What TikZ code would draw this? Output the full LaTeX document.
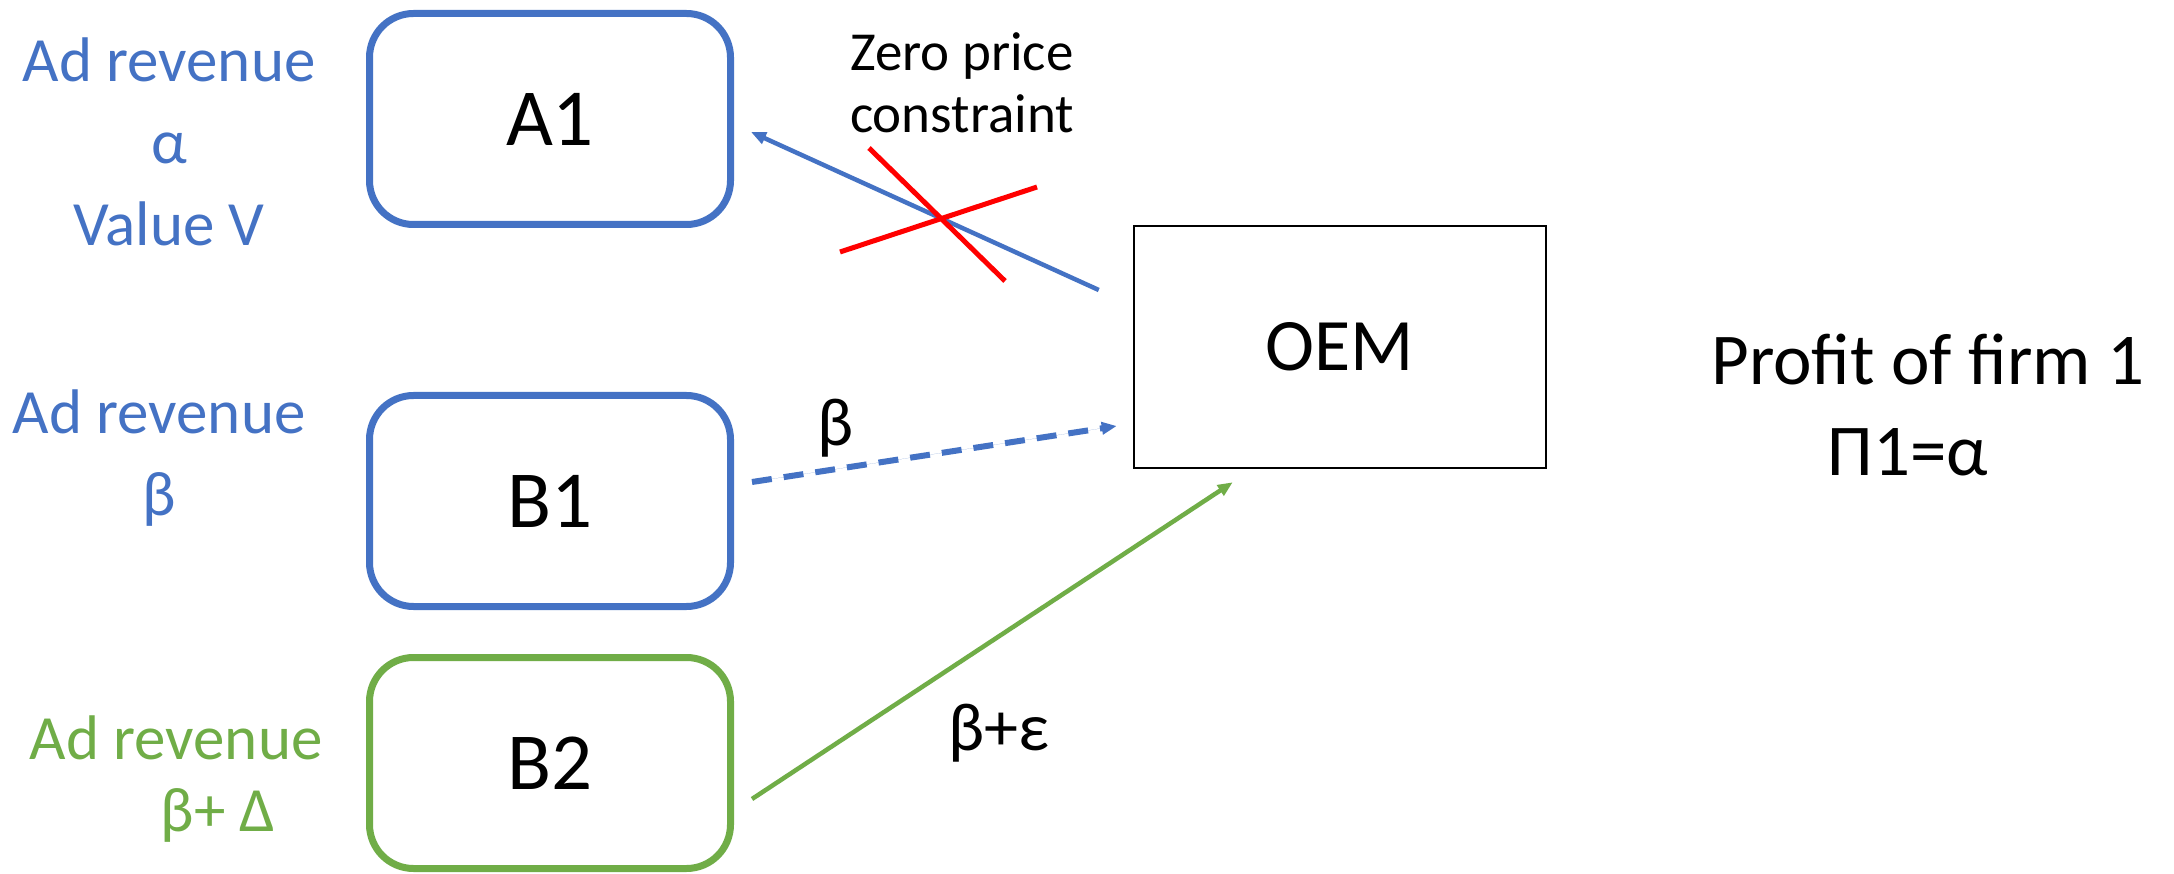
\documentclass[tikz,border=0pt]{standalone}
\usepackage{fontspec}
\setmainfont{Carlito}
\usetikzlibrary{arrows.meta,calc}
\definecolor{adblue}{HTML}{4472C4}
\definecolor{adgreen}{HTML}{70AD47}
\definecolor{xred}{HTML}{FF0000}
\tikzset{
  firmbox/.style={draw, rounded corners=44pt, line width=7pt, minimum width=361pt,
    minimum height=211pt, inner sep=0pt, font=\fontsize{81}{96}\selectfont},
  oembox/.style={draw=black, line width=2.5pt, minimum width=412pt, minimum height=242pt,
    inner sep=0pt, font=\fontsize{74}{88}\selectfont},
  sidelabel/.style={align=center, inner sep=0pt, font=\fontsize{63}{82}\selectfont},
  flowlabel/.style={inner sep=0pt, font=\fontsize{68}{80}\selectfont},
  profitlabel/.style={inner sep=0pt, anchor=base, font=\fontsize{73}{88}\selectfont},
  flowtip/.style={-{Triangle[length=15pt,width=12pt]}},
  cross/.style={draw=xred, line width=5pt},
}
\begin{document}
\begin{tikzpicture}[x=1pt,y=-1pt]
\useasboundingbox (0,0) rectangle (2174,874);
\fill[white] (0,0) rectangle (2174,874);

% firms and the OEM
\node[firmbox, draw=adblue] (A1) at (550,119) {A1};
\node[firmbox, draw=adblue] (B1) at (550,501) {B1};
\node[firmbox, draw=adgreen] (B2) at (550,763) {B2};
\node[oembox] (OEM) at (1340,347) {OEM};

% revenue labels
\node[sidelabel, text=adblue] (la1) at (169,142) {Ad revenue\\α\\Value V};
\node[sidelabel, text=adblue] (lb1) at (159,458) {Ad revenue\\β};
\node[sidelabel, text=adgreen] (lb2a) at (176,738) {Ad revenue};
\node[sidelabel, text=adgreen] (lb2b) at (218,815) {β+ Δ};

\node[align=center, inner sep=0pt, font=\fontsize{55}{62}\selectfont] (zp) at (962,83) {Zero price\\constraint};
\node[profitlabel] (profit) at (1928,385) {Profit of firm 1};
\node[profitlabel] (pi1) at (1908,475) {Π1=α};

% connector end points
\coordinate (a1end) at ($(A1.east)+(17,13)$);
\coordinate (a1start) at ($(OEM.west)+(-34,-57)$);
\coordinate (b1start) at ($(B1.east)+(18,-19)$);
\coordinate (b1end) at ($(OEM.west)+(-16,79)$);
\coordinate (b2start) at ($(B2.east)+(18,36)$);
\coordinate (b2end) at ($(OEM.south west)+(100,13)$);

\draw[flowtip, draw=adblue, fill=adblue, line width=4.5pt] (a1start) -- (a1end);
\draw[flowtip, draw=adblue, fill=adblue, line width=6pt, dash pattern=on 20pt off 12pt] (b1start) -- (b1end);
\draw[flowtip, draw=adgreen, fill=adgreen, line width=4.5pt] (b2start) -- (b2end);

% the crossed-out flow
\coordinate (xa) at (869,148);
\coordinate (xb) at (1005,281);
\coordinate (xc) at (840,252);
\coordinate (xd) at (1037,187);
\draw[cross] (xa) -- (xb);
\draw[cross] (xc) -- (xd);

% flow labels
\node[flowlabel] (lbeta) at (836,428) {β};
\node[flowlabel] (lbeps) at (999,733) {β+ε};
\end{tikzpicture}
\end{document}
